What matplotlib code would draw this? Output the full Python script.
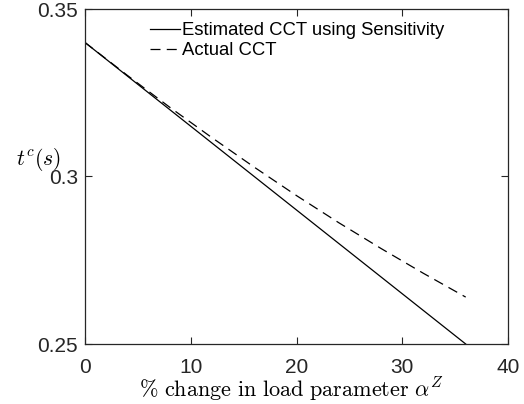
import matplotlib
matplotlib.use("Agg")
import matplotlib.pyplot as plt

# Data
x_est = [0, 36]
y_est = [0.340, 0.250]
x_act = [0, 4, 8, 12, 16, 20, 24, 28, 32, 36]
y_act = [0.3400, 0.3302, 0.3207, 0.3116, 0.3028, 0.2943, 0.2862, 0.2785, 0.2711, 0.2640]
legend_labels = ["Estimated CCT using Sensitivity", "Actual CCT"]
xticks = [0, 10, 20, 30, 40]
yticks = [0.25, 0.30, 0.35]
ytick_labels = ["0.25", "0.3", "0.35"]

plt.rcParams['font.family'] = ['Liberation Sans', 'DejaVu Sans']
plt.rcParams['mathtext.fontset'] = 'cm'

W, H = 524, 404
fig = plt.figure(figsize=(W/100, H/100), dpi=100)
ax = fig.add_axes([85/W, 1-344/H, (508-85)/W, (344-9)/H])

ax.plot(x_est, y_est, color='black', lw=0.9, label=legend_labels[0])
ax.plot(x_act, y_act, color='black', lw=0.9, ls=(0, (8, 5)), label=legend_labels[1])

ax.set_xlim(0, 40)
ax.set_ylim(0.25, 0.35)
ax.set_xticks(xticks)
ax.set_yticks(yticks)
ax.set_yticklabels(ytick_labels)

for s in ax.spines.values():
    s.set_color('#262626')
    s.set_linewidth(0.9)
ax.tick_params(direction='in', top=True, right=True, length=5, width=0.8,
               colors='#262626', labelsize=15, labelcolor='#262626')
ax.tick_params(axis='x', pad=10)
ax.tick_params(axis='y', pad=5)

fig.text(291/W, 1-397/H, r"$\%\ \mathrm{change\ in\ load\ parameter}\ \alpha^Z$",
         fontsize=16, ha='center', va='baseline')
fig.text(38/W, 1-165/H, r"$t^c(s)$", fontsize=15.5, ha='center', va='baseline')

leg = ax.legend(loc='upper left', bbox_to_anchor=((150-85)/423, (344-22)/335),
                frameon=False, fontsize=13.3, handlelength=1.6, handletextpad=0.15,
                borderpad=0, borderaxespad=0, labelspacing=0.18)

fig.savefig("out.png", dpi=100)
